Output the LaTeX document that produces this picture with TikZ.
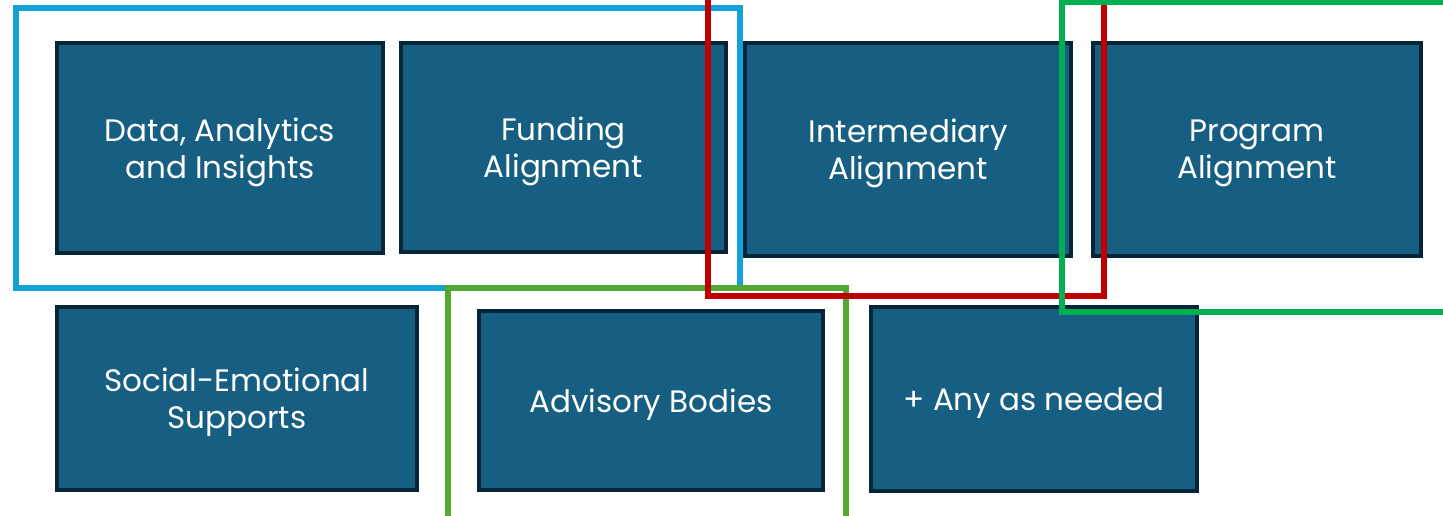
\documentclass[tikz,border=0pt]{standalone}
\usepackage{fontspec}
\setmainfont{Poppins}
\definecolor{boxfill}{HTML}{175F82}
\definecolor{boxline}{HTML}{062538}
\definecolor{frameblue}{HTML}{14A0D8}
\definecolor{framered}{HTML}{C00000}
\definecolor{framelime}{HTML}{52A832}
\definecolor{framegreen}{HTML}{00B050}
\tikzset{
  area/.style={draw=boxline, fill=boxfill, line width=4pt, inner sep=0pt},
  areatext/.style={text=white, align=center, inner sep=0pt, yshift=-4pt,
    font=\fontsize{31}{37}\selectfont},
  frame/.style={line width=6pt}
}
\begin{document}
\begin{tikzpicture}[x=1pt, y=-1pt]
\clip (0,0) rectangle (1443,515);
\node[area, minimum width=326pt, minimum height=210pt,
  label={[areatext]center:{Data, Analytics\\and Insights}}] (data) at (220,148) {};
\node[area, minimum width=325pt, minimum height=209pt,
  label={[areatext]center:{Funding\\Alignment}}] (fund) at (563.5,147.5) {};
\node[area, minimum width=326pt, minimum height=213pt,
  label={[areatext]center:{Intermediary\\Alignment}}] (inter) at (908,149.5) {};
\node[area, minimum width=328pt, minimum height=213pt,
  label={[areatext]center:{Program\\Alignment}}] (prog) at (1257,149.5) {};
\node[area, minimum width=360pt, minimum height=183pt,
  label={[areatext]center:{Social-Emotional\\Supports}}] (social) at (237,398.5) {};
\node[area, minimum width=344pt, minimum height=179pt,
  label={[areatext]center:{Advisory Bodies}}] (advis) at (651,400.5) {};
\node[area, minimum width=326pt, minimum height=184pt,
  label={[areatext]center:{+ Any as needed}}] (any) at (1034,399) {};
% frames round the groups
\draw[frame, frameblue] (16,8) rectangle (740,288);
\draw[frame, framelime] (448,530) -- (448,288) -- (846,288) -- (846,530);
\draw[frame, framered] (708,-10) -- (708,296) -- (1104,296) -- (1104,-10);
\draw[frame, framegreen] (1460,1.5) -- (1062,1.5) -- (1062,312) -- (1460,312);
\end{tikzpicture}
\end{document}
